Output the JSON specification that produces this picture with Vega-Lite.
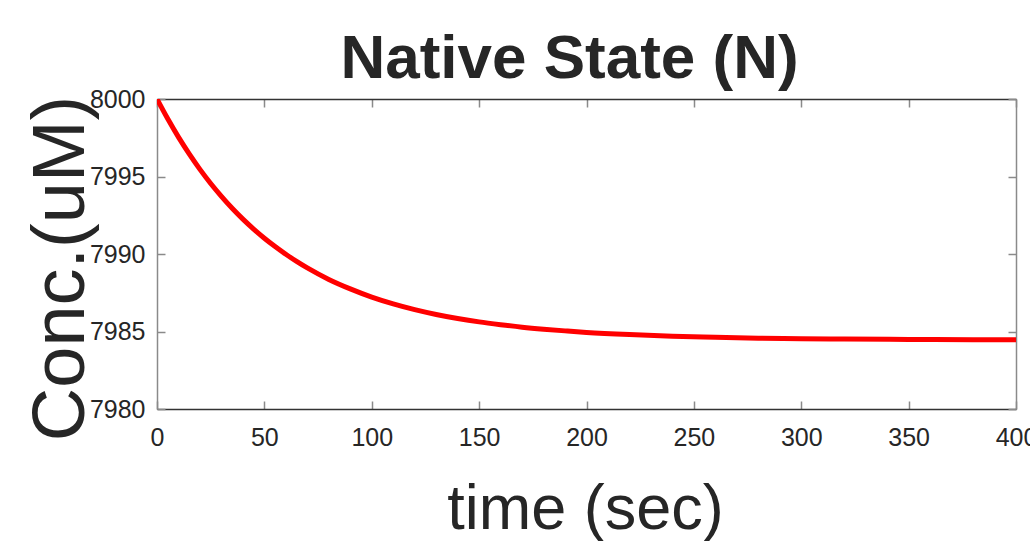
{
  "$schema": "https://vega.github.io/schema/vega-lite/v6.json",
  "width": 859,
  "height": 310,
  "autosize": {"type": "none"},
  "padding": {"left": 157, "top": 99, "right": 14, "bottom": 132},
  "background": "white",
  "title": {
    "text": "Native State (N)",
    "font": "Liberation Sans, Arial, sans-serif",
    "fontSize": 62,
    "fontWeight": "bold",
    "color": "#262626",
    "anchor": "middle",
    "baseline": "bottom",
    "offset": -66,
    "dx": -17
  },
  "config": {
    "view": {"stroke": null},
    "axis": {"grid": false}
  },
  "data": {
    "values": [
      {"t": 0, "c": 8000.0},
      {"t": 5, "c": 7998.72},
      {"t": 10, "c": 7997.54},
      {"t": 15, "c": 7996.46},
      {"t": 20, "c": 7995.46},
      {"t": 25, "c": 7994.55},
      {"t": 30, "c": 7993.72},
      {"t": 35, "c": 7992.95},
      {"t": 40, "c": 7992.25},
      {"t": 45, "c": 7991.61},
      {"t": 50, "c": 7991.02},
      {"t": 55, "c": 7990.48},
      {"t": 60, "c": 7989.98},
      {"t": 65, "c": 7989.52},
      {"t": 70, "c": 7989.10},
      {"t": 80, "c": 7988.36},
      {"t": 90, "c": 7987.75},
      {"t": 100, "c": 7987.22},
      {"t": 110, "c": 7986.78},
      {"t": 120, "c": 7986.41},
      {"t": 130, "c": 7986.10},
      {"t": 140, "c": 7985.84},
      {"t": 150, "c": 7985.62},
      {"t": 160, "c": 7985.44},
      {"t": 170, "c": 7985.28},
      {"t": 180, "c": 7985.15},
      {"t": 190, "c": 7985.04},
      {"t": 200, "c": 7984.94},
      {"t": 220, "c": 7984.80},
      {"t": 240, "c": 7984.70},
      {"t": 260, "c": 7984.63},
      {"t": 280, "c": 7984.57},
      {"t": 300, "c": 7984.54},
      {"t": 320, "c": 7984.51},
      {"t": 350, "c": 7984.49},
      {"t": 380, "c": 7984.47},
      {"t": 400, "c": 7984.46}
    ]
  },
  "layer": [
    {
      "mark": {"type": "line", "color": "#ff0000", "strokeWidth": 5, "interpolate": "monotone", "clip": true},
      "encoding": {
        "x": {
          "field": "t", "type": "quantitative",
          "scale": {"domain": [0, 400], "nice": false, "zero": false},
          "axis": {
            "orient": "bottom",
            "values": [0, 50, 100, 150, 200, 250, 300, 350, 400],
            "title": "time (sec)",
            "titleFont": "Liberation Sans, Arial, sans-serif",
            "titleFontSize": 63,
            "titleFontWeight": "normal",
            "titleColor": "#262626",
            "titleBaseline": "alphabetic",
            "titleAnchor": null,
            "titleAlign": "center",
            "titleX": 428,
            "titleY": 119,
            "labelFont": "Liberation Sans, Arial, sans-serif",
            "labelFontSize": 25,
            "labelColor": "#262626",
            "labelPadding": 24,
            "labelFlush": false,
            "labelOverlap": false,
            "tickSize": -8,
            "tickWidth": 1.5,
            "tickColor": "#8a8a8a",
            "domainColor": "#333333",
            "domainWidth": 1.5
          }
        },
        "y": {
          "field": "c", "type": "quantitative",
          "scale": {"domain": [7980, 8000], "nice": false, "zero": false},
          "axis": {
            "orient": "left",
            "values": [7980, 7985, 7990, 7995, 8000],
            "format": "d",
            "title": "Conc.(uM)",
            "titleFont": "Liberation Sans, Arial, sans-serif",
            "titleFontSize": 74,
            "titleFontWeight": "normal",
            "titleColor": "#262626",
            "titleAngle": 270,
            "titleBaseline": "alphabetic",
            "titleAlign": "center",
            "titleAnchor": null,
            "titleX": -74,
            "titleY": 169,
            "labelFont": "Liberation Sans, Arial, sans-serif",
            "labelFontSize": 25,
            "labelColor": "#262626",
            "labelPadding": 20,
            "labelFlush": false,
            "labelOverlap": false,
            "tickSize": -8,
            "tickWidth": 1.5,
            "tickColor": "#8a8a8a",
            "domainColor": "#8a8a8a",
            "domainWidth": 1.5
          }
        }
      }
    },
    {
      "mark": {"type": "line", "opacity": 0, "clip": true},
      "encoding": {
        "x": {
          "field": "t", "type": "quantitative",
          "scale": {"domain": [0, 400], "nice": false, "zero": false},
          "axis": {
            "orient": "top",
            "values": [0, 50, 100, 150, 200, 250, 300, 350, 400],
            "title": null,
            "labels": false,
            "tickSize": -8,
            "tickWidth": 1.5,
            "tickColor": "#8a8a8a",
            "domainColor": "#333333",
            "domainWidth": 1.5
          }
        },
        "y": {
          "field": "c", "type": "quantitative",
          "scale": {"domain": [7980, 8000], "nice": false, "zero": false},
          "axis": {
            "orient": "right",
            "values": [7980, 7985, 7990, 7995, 8000],
            "title": null,
            "labels": false,
            "tickSize": -8,
            "tickWidth": 1.5,
            "tickColor": "#8a8a8a",
            "domainColor": "#8a8a8a",
            "domainWidth": 1.5
          }
        }
      }
    }
  ],
  "resolve": {"axis": {"x": "independent", "y": "independent"}}
}
